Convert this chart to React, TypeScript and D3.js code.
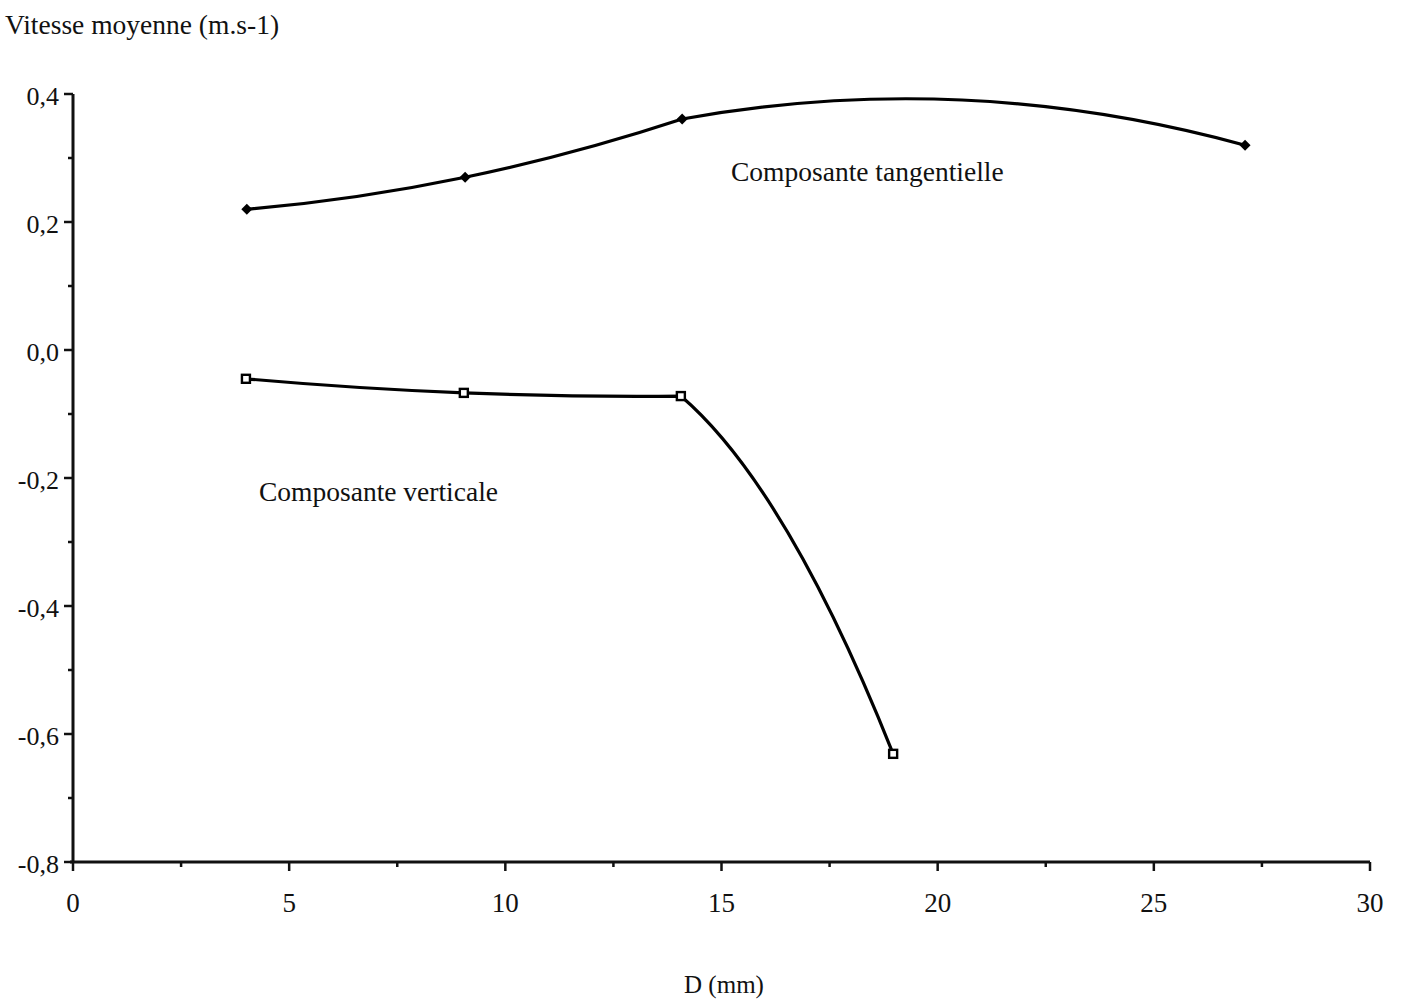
import React from 'react';
import * as d3 from 'd3';

// ---- data ----
const xMajorTicks = [0, 5, 10, 15, 20, 25, 30];
const xMinorTicks = [2.5, 7.5, 12.5, 17.5, 22.5, 27.5];
const yMajorTicks = [0.4, 0.2, 0, -0.2, -0.4, -0.6, -0.8];
const yMajorLabels = ['0,4', '0,2', '0,0', '-0,2', '-0,4', '-0,6', '-0,8'];
const yMinorTicks = [0.3, 0.1, -0.1, -0.3, -0.5, -0.7];

const tangD = [4.02, 9.07, 14.09, 27.11];
const tangV = [0.22, 0.27, 0.361, 0.32];
const vertD = [4.0, 9.04, 14.06, 18.97];
const vertV = [-0.045, -0.067, -0.072, -0.631];

const titleY = 'Vitesse moyenne (m.s-1)';
const titleX = 'D (mm)';
const labelTang = 'Composante tangentielle';
const labelVert = 'Composante verticale';

// Piecewise-parabolic curve in x: the segment from point i to i+1 follows the
// parabola through points (i-1, i, i+1) (first segment: points 0,1,2).
class ParabolicXCurve {
  _context: any;
  _x: number[] = [];
  _y: number[] = [];
  constructor(context: any) {
    this._context = context;
  }
  areaStart() {}
  areaEnd() {}
  lineStart() {
    this._x = [];
    this._y = [];
  }
  point(x: number, y: number) {
    this._x.push(+x);
    this._y.push(+y);
  }
  lineEnd() {
    const X = this._x, Y = this._y, n = X.length;
    const c = this._context;
    if (!n) return;
    c.moveTo(X[0], Y[0]);
    if (n < 3) {
      for (let i = 1; i < n; i++) c.lineTo(X[i], Y[i]);
      return;
    }
    for (let i = 0; i < n - 1; i++) {
      const a = Math.max(0, i - 1);
      const x0 = X[a], x1 = X[a + 1], x2 = X[a + 2];
      const y0 = Y[a], y1 = Y[a + 1], y2 = Y[a + 2];
      const f01 = (y1 - y0) / (x1 - x0);
      const f12 = (y2 - y1) / (x2 - x1);
      const f012 = (f12 - f01) / (x2 - x0);
      const deriv = (xx: number) => f01 + f012 * (2 * xx - x0 - x1);
      const xs = X[i], xe = X[i + 1];
      const d0 = deriv(xs), d1 = deriv(xe);
      const k = (xe - xs) / 3;
      c.bezierCurveTo(xs + k, Y[i] + d0 * k, xe - k, Y[i + 1] - d1 * k, xe, Y[i + 1]);
    }
  }
}
const curveParabolicX = (context: any) => new ParabolicXCurve(context);

export default function App() {
  const W = 1403, H = 1006;
  const x = d3.scaleLinear().domain([0, 30]).range([73, 1370]);
  const y = d3.scaleLinear().domain([-0.8, 0.4]).range([862, 94]);
  const font = "'Liberation Serif', 'Times New Roman', serif";

  const tangPts: [number, number][] = tangD.map((d, i) => [d, tangV[i]]);
  const vertPts: [number, number][] = vertD.map((d, i) => [d, vertV[i]]);

  const line = d3
    .line<[number, number]>()
    .x((p) => x(p[0]))
    .y((p) => y(p[1]))
    .curve(curveParabolicX as any);

  const axisX = x(0);
  const axisY = y(-0.8);

  return (
    <svg
      width={W}
      height={H}
      style={{ position: 'absolute', left: 0, top: 0, background: '#fff' }}
      fontFamily={font}
    >
      <rect x={0} y={0} width={W} height={H} fill="#fff" />
      {/* title */}
      <text x={5} y={34} fontSize={27.5} fill="#111">
        {titleY}
      </text>

      {/* y axis */}
      <line x1={axisX} y1={y(0.4)} x2={axisX} y2={axisY} stroke="#111" strokeWidth={3} />
      {yMajorTicks.map((t, i) => (
        <g key={'ym' + i}>
          <line x1={axisX - 9} x2={axisX} y1={y(t)} y2={y(t)} stroke="#111" strokeWidth={2.5} />
          <text x={axisX - 14} y={y(t) + 2} dy="0.35em" textAnchor="end" fontSize={26} fill="#111">
            {yMajorLabels[i]}
          </text>
        </g>
      ))}
      {yMinorTicks.map((t, i) => (
        <line key={'yn' + i} x1={axisX - 5} x2={axisX} y1={y(t)} y2={y(t)} stroke="#111" strokeWidth={2.5} />
      ))}

      {/* x axis */}
      <line x1={axisX - 3} y1={axisY} x2={x(30)} y2={axisY} stroke="#111" strokeWidth={3} />
      {xMajorTicks.map((t, i) => (
        <g key={'xm' + i}>
          <line x1={x(t)} x2={x(t)} y1={axisY} y2={axisY + 9} stroke="#111" strokeWidth={2.5} />
          <text x={x(t)} y={912} textAnchor="middle" fontSize={27} fill="#111">
            {t}
          </text>
        </g>
      ))}
      {xMinorTicks.map((t, i) => (
        <line key={'xn' + i} x1={x(t)} x2={x(t)} y1={axisY} y2={axisY + 5} stroke="#111" strokeWidth={2.5} />
      ))}
      <text x={724} y={993} textAnchor="middle" fontSize={25} fill="#111">
        {titleX}
      </text>

      {/* series */}
      <path d={line(tangPts) || ''} fill="none" stroke="#000" strokeWidth={3.2} />
      <path d={line(vertPts) || ''} fill="none" stroke="#000" strokeWidth={3.2} />
      {tangPts.map((p, i) => (
        <path
          key={'td' + i}
          d={`M${x(p[0])},${y(p[1]) - 5.5}L${x(p[0]) + 5.5},${y(p[1])}L${x(p[0])},${y(p[1]) + 5.5}L${x(p[0]) - 5.5},${y(p[1])}Z`}
          fill="#000"
        />
      ))}
      {vertPts.map((p, i) => (
        <rect
          key={'vs' + i}
          x={x(p[0]) - 4}
          y={y(p[1]) - 4}
          width={8}
          height={8}
          fill="#fff"
          stroke="#000"
          strokeWidth={2.4}
        />
      ))}

      {/* labels */}
      <text x={731} y={181} fontSize={27.5} fill="#111">
        {labelTang}
      </text>
      <text x={259} y={501} fontSize={27.5} fill="#111">
        {labelVert}
      </text>
    </svg>
  );
}
